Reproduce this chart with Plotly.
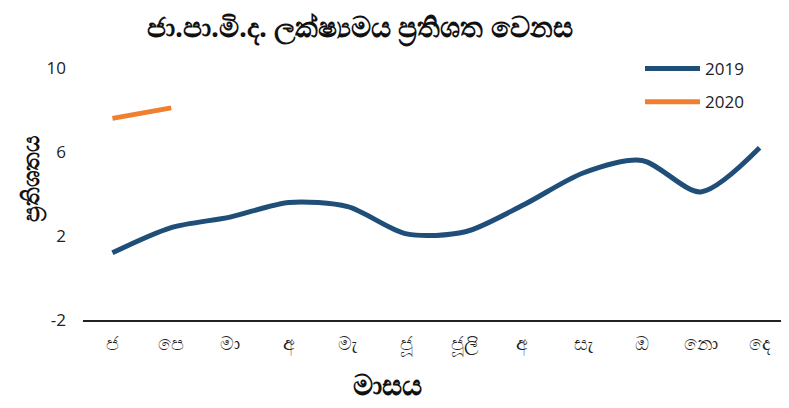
import plotly.graph_objects as go

months = ["ජ", "පෙ", "මා", "අ", "මැ", "ජූ", "ජූලි", "අ ", "සැ", "ඔ", "නො", "දෙ"]
y2019 = [1.2, 2.4, 2.9, 3.6, 3.4, 2.1, 2.2, 3.5, 5.0, 5.6, 4.1, 6.2]
y2020 = [7.6, 8.1]
yticks = [-2, 2, 6, 10]
yticklabels = ["-2", "2", "6", "10"]

title_text = "ජා.පා.මි.ද. ලක්ෂ්‍යමය ප්‍රතිශත වෙනස"
xtitle = "මාසය"
ytitle = "ප්‍රතිශතය"

OFF = 8  # default page body margin
W, H = 789 - OFF, 408 - OFF
L, R, T, B = 83 - OFF, 0, 68 - OFF, 88
pw, ph = W - L - R, H - T - B

def px(x):
    return (x - OFF - L) / pw

def py(y):
    return (H - B - (y - OFF)) / ph

fig = go.Figure()
fig.add_trace(go.Scatter(x=months, y=y2019, mode="lines", name="2019", legendgroup="a",
                         line=dict(color="#1F4E79", width=5, shape="spline", smoothing=0.8)))
fig.add_trace(go.Scatter(x=months[:len(y2020)], y=y2020, mode="lines", name="2020", legendgroup="b",
                         line=dict(color="#F08030", width=5, shape="spline")))

fig.update_layout(
    width=W, height=H,
    margin=dict(l=L, r=R, t=T, b=B, autoexpand=False),
    paper_bgcolor="white", plot_bgcolor="white",
    font=dict(family="Open Sans, Noto Sans, sans-serif", color="#222222", size=16),
    showlegend=True,
    legend=dict(x=px(640), y=py(51), xanchor="left", yanchor="top",
                font=dict(size=17, color="#222222"), bgcolor="rgba(0,0,0,0)",
                tracegroupgap=8, itemwidth=55),
    xaxis=dict(type="category", showgrid=False, showline=True, linecolor="#222222",
               linewidth=2, ticks="", tickfont=dict(size=19, color="#222222"),
               ticklabelstandoff=5, range=[-0.5, 11.5], automargin=False),
    yaxis=dict(range=[-2, 10], tickvals=yticks, ticktext=yticklabels, showgrid=False,
               zeroline=False, showline=False, ticks="", ticklabelstandoff=16,
               tickfont=dict(size=17, color="#222222"), automargin=False),
    annotations=[
        dict(text="<b>" + title_text + "</b>", x=px(360), y=py(27), xref="paper", yref="paper",
             xanchor="center", yanchor="middle", showarrow=False,
             font=dict(size=28, color="#111111")),
        dict(text="<b>" + xtitle + "</b>", x=px(387), y=py(384), xref="paper", yref="paper",
             xanchor="center", yanchor="middle", showarrow=False,
             font=dict(size=28, color="#111111")),
        dict(text="<b>" + ytitle + "</b>", x=px(30), y=py(178), xref="paper", yref="paper",
             xanchor="center", yanchor="middle", textangle=-90, showarrow=False,
             font=dict(size=23, color="#111111")),
    ],
)

fig.write_html("out.html")
